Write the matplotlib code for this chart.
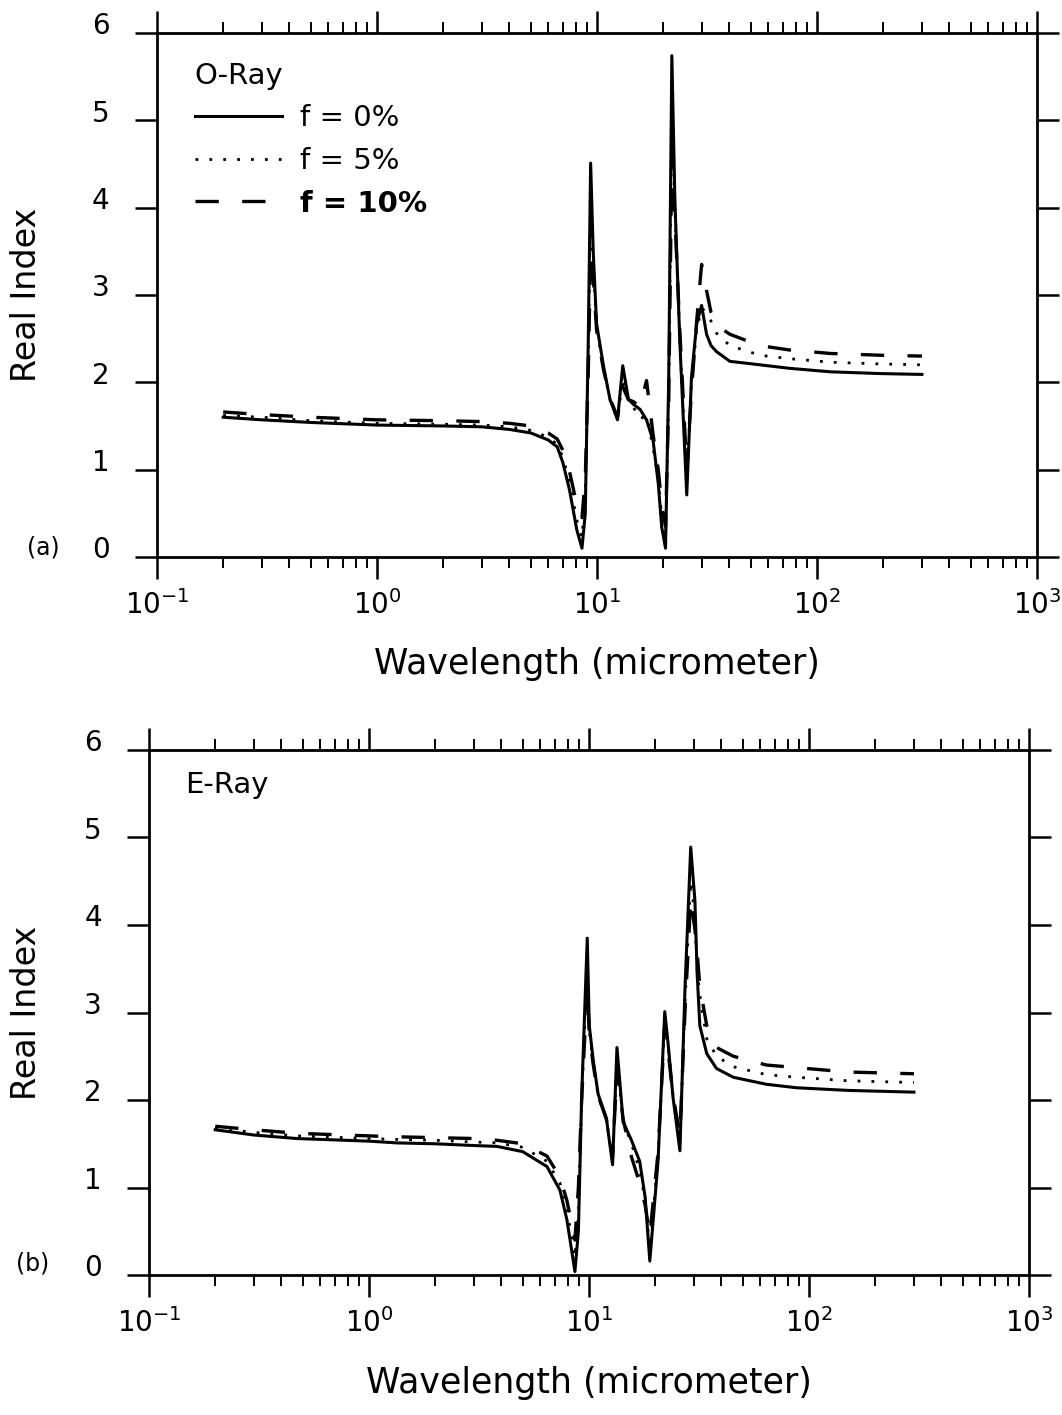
import matplotlib
matplotlib.use("Agg")
import matplotlib.pyplot as plt
from matplotlib.ticker import LogLocator, NullFormatter, FixedLocator
from matplotlib.transforms import ScaledTranslation

# ---- panel (a): O-ray ----
lam_a = [0.2, 0.3, 0.5, 1.0, 2.0, 3.0, 4.0, 5.0, 6.0, 6.6, 7.0, 7.5, 8.1, 8.55,
         8.85, 9.13, 9.36, 9.62, 9.96, 10.7, 11.45, 12.4, 13.1, 13.9, 14.6, 15.7,
         16.8, 18.0, 19.0, 19.7, 20.5, 21.2, 21.9, 22.6, 23.8, 25.6, 26.9, 28.4,
         29.9, 31.5, 33.0, 35.0, 40.2, 55, 75, 115, 193, 300]
n_a_0 = [1.60, 1.57, 1.54, 1.51, 1.50, 1.49, 1.46, 1.42, 1.34, 1.26, 1.08, 0.77, 0.31, 0.10,
         0.50, 2.47, 4.51, 3.49, 2.67, 2.19, 1.81, 1.57, 2.19, 1.81, 1.75, 1.69,
         1.57, 1.33, 0.84, 0.34, 0.10, 2.06, 5.74, 4.10, 2.47, 0.71, 2.06, 2.67,
         2.88, 2.55, 2.42, 2.35, 2.24, 2.20, 2.16, 2.12, 2.10, 2.09]
n_a_5 = [1.62, 1.60, 1.56, 1.53, 1.52, 1.51, 1.49, 1.45, 1.37, 1.29, 1.14, 0.86, 0.42, 0.22,
         0.70, 2.30, 4.00, 3.35, 2.62, 2.17, 1.80, 1.57, 2.05, 1.78, 1.72, 1.58,
         1.62, 1.25, 0.90, 0.45, 0.20, 1.90, 5.20, 4.00, 2.50, 0.85, 2.00, 2.60,
         2.85, 2.80, 2.70, 2.56, 2.42, 2.31, 2.27, 2.23, 2.21, 2.20]
n_a_10 = [1.66, 1.63, 1.60, 1.57, 1.56, 1.55, 1.53, 1.50, 1.42, 1.35, 1.22, 0.98, 0.60, 0.45,
          0.90, 2.10, 3.50, 3.20, 2.60, 2.15, 1.82, 1.60, 1.95, 1.80, 1.78, 1.72,
          2.02, 1.40, 1.00, 0.60, 0.35, 1.80, 4.60, 3.90, 2.60, 1.00, 1.90, 2.70,
          3.35, 3.05, 2.80, 2.65, 2.55, 2.42, 2.37, 2.33, 2.31, 2.30]

# ---- panel (b): E-ray ----
lam_b = [0.2, 0.3, 0.47, 1.0, 1.34, 2.0, 3.0, 3.82, 5.0, 6.44, 7.38, 7.94, 8.63, 8.95,
         9.26, 9.82, 10.03, 10.46, 11.0, 12.0, 12.8, 13.4, 14.3, 15.6, 17.0, 18.0,
         18.9, 20.6, 22.1, 22.9, 24.1, 25.9, 27.3, 29.0, 30.3, 31.0, 31.9, 34.3,
         38.0, 45.3, 64, 88, 150, 300]
n_b_0 = [1.66, 1.60, 1.56, 1.53, 1.51, 1.50, 1.48, 1.47, 1.41, 1.24, 0.97, 0.63, 0.04, 0.50,
         2.03, 3.85, 2.85, 2.45, 2.07, 1.79, 1.26, 2.60, 1.75, 1.54, 1.30, 0.89,
         0.16, 1.30, 3.01, 2.64, 2.03, 1.42, 3.26, 4.89, 4.28, 3.46, 2.85, 2.53,
         2.36, 2.26, 2.18, 2.14, 2.11, 2.09]
n_b_5 = [1.68, 1.63, 1.59, 1.56, 1.55, 1.54, 1.52, 1.51, 1.46, 1.30, 1.05, 0.75, 0.20, 0.70,
         2.00, 3.50, 2.80, 2.42, 2.05, 1.78, 1.30, 2.45, 1.75, 1.50, 1.20, 0.85,
         0.30, 1.35, 2.90, 2.60, 2.05, 1.50, 3.10, 4.50, 4.10, 3.50, 3.20, 2.70,
         2.50, 2.38, 2.29, 2.26, 2.22, 2.20]
n_b_10 = [1.70, 1.66, 1.62, 1.59, 1.58, 1.57, 1.56, 1.54, 1.50, 1.36, 1.12, 0.85, 0.40, 1.00,
          2.00, 3.30, 2.75, 2.40, 2.05, 1.78, 1.35, 2.35, 1.78, 1.35, 1.05, 0.80,
          0.45, 1.40, 2.85, 2.55, 2.05, 1.60, 3.00, 4.30, 3.95, 3.70, 3.30, 2.85,
          2.60, 2.50, 2.40, 2.37, 2.32, 2.30]

labels = ["f = 0%", "f = 5%", "f = 10%"]
x_ticks = [0.1, 1, 10, 100, 1000]
y_ticks = [0, 1, 2, 3, 4, 5, 6]

plt.rcParams["font.family"] = ["DejaVu Sans"]


def style_axes(fig, ax, ylabel_x):
    ax.set_xscale("log")
    ax.set_xlim(0.1, 1000)
    ax.set_ylim(0, 6)
    ax.xaxis.set_major_locator(FixedLocator(x_ticks))
    ax.xaxis.set_minor_locator(LogLocator(base=10, subs=range(2, 10)))
    ax.xaxis.set_minor_formatter(NullFormatter())
    ax.set_yticks(y_ticks)
    ax.tick_params(axis="both", which="major", direction="out", length=16, width=1.8,
                   top=True, right=True, labelsize=20, pad=18)
    ax.tick_params(axis="x", which="minor", direction="out", length=8, width=1.4,
                   top=True)
    ax.tick_params(axis="x", which="major", pad=8)
    for sp in ax.spines.values():
        sp.set_linewidth(2.0)
    # tick labels sit a little above their ticks in the scan
    for lab in ax.get_yticklabels():
        lab.set_transform(lab.get_transform() + ScaledTranslation(0, 7 / 72, fig.dpi_scale_trans))
    ax.set_xlabel("Wavelength (micrometer)", fontsize=25)
    ax.set_ylabel("Real Index", fontsize=24)
    ax.xaxis.set_label_coords(0.5, -0.205)
    ax.xaxis.label.set_va("center")
    ax.yaxis.set_label_coords(ylabel_x, 0.5)
    ax.yaxis.label.set_va("center")


def draw(ax, lam, n0, n5, n10):
    l0, = ax.plot(lam, n0, color="black", lw=2.2, ls="-")
    l5, = ax.plot(lam, n5, color="black", lw=2.0, ls=(0, (1, 4)))
    l10, = ax.plot(lam, n10, color="black", lw=2.4, ls=(0, (7, 7)))
    return [l0, l5, l10]


fig = plt.figure(figsize=(10.62, 14.15), dpi=100)
ax_a = fig.add_axes([0.1478, 0.6064, 0.8286, 0.3703])
ax_b = fig.add_axes([0.1403, 0.0989, 0.8286, 0.3711])

lines = draw(ax_a, lam_a, n_a_0, n_a_5, n_a_10)
draw(ax_b, lam_b, n_b_0, n_b_5, n_b_10)

style_axes(fig, ax_a, -0.148)
style_axes(fig, ax_b, -0.139)

leg = ax_a.legend(lines, labels, title="O-Ray", loc="upper left",
                  bbox_to_anchor=(0.013, 0.995), frameon=False, fontsize=21,
                  title_fontsize=21, handlelength=3.0, handletextpad=0.6,
                  labelspacing=0.5)
leg._legend_box.align = "left"
leg.get_texts()[2].set_fontweight("bold")

ax_b.text(0.041, 0.933, "E-Ray", transform=ax_b.transAxes, fontsize=21,
          va="center", ha="left")

fig.text(43 / 1062, 1 - 548 / 1415, "(a)", fontsize=17, ha="center", va="center")
fig.text(33 / 1062, 1 - 1264 / 1415, "(b)", fontsize=17, ha="center", va="center")

fig.savefig("out.png", dpi=100)
